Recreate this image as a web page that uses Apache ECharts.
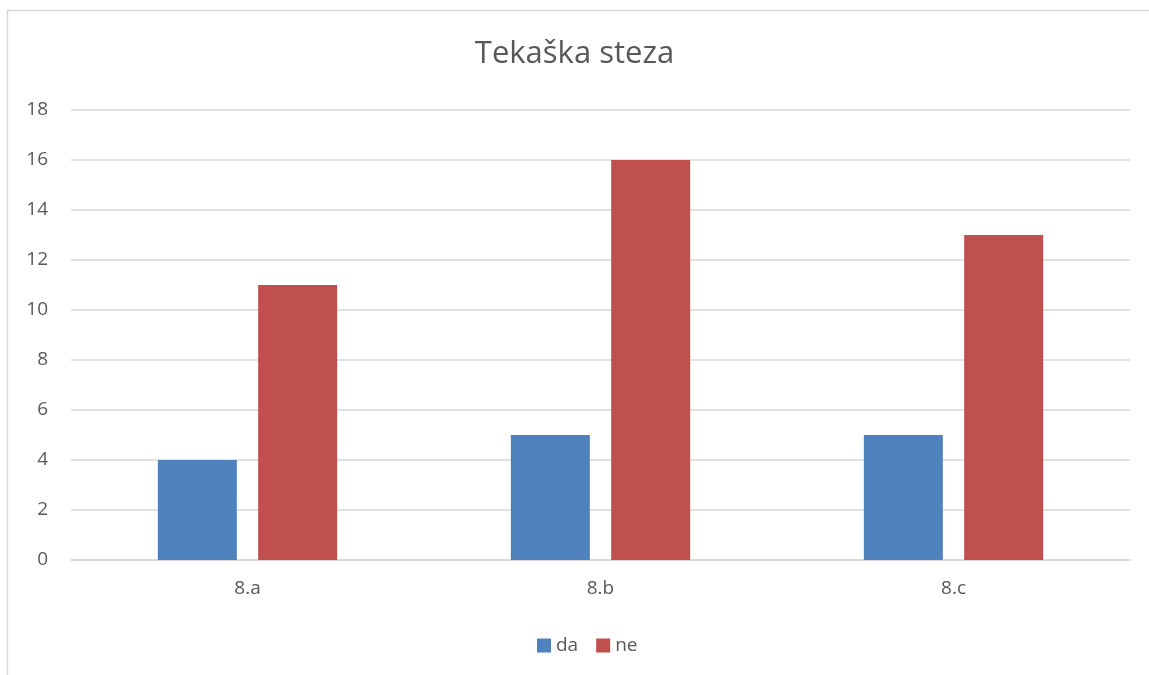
<!DOCTYPE html>
<html>
<head>
<meta charset="utf-8">
<script src="https://cdn.jsdelivr.net/npm/echarts@6/dist/echarts.min.js"></script>
<style>
  html, body { margin: 0; padding: 0; background: #fff; }
  #chart { width: 1149px; height: 675px; }
</style>
</head>
<body>
<div id="chart"></div>
<script>
const categories = ['8.a', '8.b', '8.c'];
const daValues = [4, 5, 5];
const neValues = [11, 16, 13];
const yTicks = [0, 18, 2]; // min, max, interval

const chart = echarts.init(document.getElementById('chart'));

const textColor = '#595959';
const font = '"Open Sans", "Noto Sans", sans-serif';

const option = {
  backgroundColor: '#fff',
  animation: false,
  graphic: [{
    type: 'rect',
    shape: { x: 7.5, y: 10.5, width: 1160, height: 700 },
    style: { fill: 'none', stroke: '#D9D9D9', lineWidth: 1.5 },
    silent: true
  }],
  title: {
    text: 'Tekaška steza',
    left: 'center',
    top: 34,
    textStyle: { color: textColor, fontSize: 31, fontWeight: 'normal', fontFamily: font }
  },
  legend: {
    bottom: 15,
    left: 532,
    itemWidth: 14,
    itemHeight: 14,
    itemGap: 18,
    icon: 'rect',
    textStyle: { color: textColor, fontSize: 19, fontFamily: font },
    data: ['da', 'ne']
  },
  grid: { left: 71, right: 19, top: 110, bottom: 115 },
  xAxis: {
    type: 'category',
    data: categories,
    axisLine: { lineStyle: { color: '#D9D9D9', width: 1.5 } },
    axisTick: { show: false },
    axisLabel: { color: textColor, fontSize: 19, fontFamily: font, margin: 19 }
  },
  yAxis: {
    type: 'value',
    min: yTicks[0],
    max: yTicks[1],
    interval: yTicks[2],
    axisLine: { show: false },
    axisTick: { show: false },
    axisLabel: { color: textColor, fontSize: 19, fontFamily: font, margin: 23 },
    splitLine: { lineStyle: { color: '#D9D9D9', width: 1.5 } }
  },
  series: [
    {
      name: 'da',
      type: 'bar',
      data: daValues,
      barWidth: 79,
      barGap: '27%',
      itemStyle: { color: '#4F81BD' }
    },
    {
      name: 'ne',
      type: 'bar',
      data: neValues,
      barWidth: 79,
      barGap: '27%',
      itemStyle: { color: '#C0504D' }
    }
  ]
};

chart.setOption(option);
</script>
</body>
</html>
